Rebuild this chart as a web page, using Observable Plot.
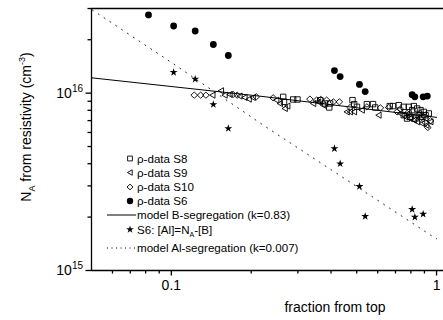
<!DOCTYPE html>
<html><head><meta charset="utf-8">
<script src="https://cdn.jsdelivr.net/npm/d3@7"></script>
<script src="https://cdn.jsdelivr.net/npm/@observablehq/plot@0.6"></script>
<style>
body{margin:0;background:#fff;}
#chart svg{display:block;}
</style></head><body><div id="chart"></div>
<script>
// ---- data (x = fraction from top, y = N_A in cm^-3) ----
const s8X = [0.264,0.266,0.288,0.299,0.364,0.380,0.394,0.397,0.482,0.489,0.501,0.546,0.576,0.587,0.666,0.685,0.720,0.752,0.786,0.809,0.821,0.845,0.870,0.895,0.752,0.774,0.797,0.833,0.857,0.883,0.909,0.935];
const s8Y = [9.53e15,8.93e15,9.21e15,9.21e15,9.13e15,8.74e15,8.30e15,8.74e15,9.13e15,8.67e15,8.37e15,8.67e15,8.67e15,8.30e15,8.45e15,8.45e15,8.55e15,8.37e15,8.37e15,8.02e15,8.45e15,8.19e15,8.02e15,7.84e15,7.51e15,7.19e15,7.35e15,7.19e15,7.51e15,7.35e15,7.51e15,7.68e15];
const s9X = [0.143,0.154,0.159,0.166,0.181,0.189,0.196,0.203,0.249,0.257,0.268,0.274,0.343,0.358,0.374,0.459,0.472,0.489,0.523,0.605,0.730,0.763,0.793,0.821,0.845,0.883,0.916,0.949,0.909,0.786];
const s9Y = [9.74e15,1.031e16,9.74e15,9.83e15,9.62e15,9.45e15,9.25e15,9.45e15,9.13e15,8.74e15,8.19e15,8.45e15,8.74e15,8.93e15,8.55e15,7.84e15,7.84e15,7.84e15,8.02e15,7.51e15,7.68e15,7.35e15,7.19e15,7.04e15,6.89e15,6.74e15,6.59e15,6.89e15,7.19e15,7.68e15];
const s10X = [0.122,0.129,0.135,0.171,0.177,0.209,0.242,0.333,0.353,0.366,0.385,0.408,0.430,0.472,0.546,0.614,0.660,0.730,0.710,0.774,0.833,0.870,0.870,0.909,0.927,0.949];
const s10Y = [9.74e15,9.74e15,9.74e15,9.83e15,9.74e15,9.53e15,9.41e15,9.25e15,9.13e15,9.21e15,9.13e15,8.93e15,8.93e15,8.30e15,8.37e15,8.26e15,8.30e15,8.12e15,7.84e15,7.68e15,7.41e15,7.19e15,7.68e15,6.80e15,6.40e15,6.98e15];
const s6X = [0.082,0.102,0.123,0.144,0.164,0.412,0.433,0.512,0.538,0.809,0.828,0.890,0.923];
const s6Y = [2.76e16,2.39e16,2.24e16,1.88e16,1.63e16,1.34e16,1.24e16,1.12e16,1.02e16,9.8e15,9.53e15,9.53e15,9.62e15];
const alX = [0.102,0.123,0.144,0.164,0.412,0.433,0.512,0.538,0.809,0.828,0.890];
const alY = [1.31e16,1.20e16,8.63e15,6.32e15,4.87e15,4.00e15,2.98e15,2.02e15,2.21e15,2.00e15,2.08e15];
const modelBX = [0.05,0.215,1.0];
const modelBY = [1.22e16,9.62e15,7.3e15];
const modelAlX = [0.0504,0.1,0.222,0.977,1.0];
const modelAlY = [2.94e16,1.49e16,6.6e15,1.54e15,1.51e15];
const xMajorTicks = [0.1,1];
const xMinorTicks = [0.06,0.07,0.08,0.09,0.2,0.3,0.4,0.5,0.6,0.7,0.8,0.9];
const yMajorTicks = [1e15,1e16];
const yMinorTicks = [2e15,3e15,4e15,5e15,6e15,7e15,8e15,9e15,2e16,3e16];
const legendLabels = ["ρ-data S8","ρ-data S9","ρ-data S10","ρ-data S6","model B-segregation (k=0.83)","S6: [Al]=N|A|-[B]","model Al-segregation (k=0.007)"];
const xLabel = "fraction from top";

const pts = (xs, ys) => xs.map((x, i) => ({x, y: ys[i]}));

// ---- symbols ----
const sqSym = {draw(c, s){const r=Math.sqrt(s/Math.PI); c.moveTo(-r,-r); c.lineTo(r,-r); c.lineTo(r,r); c.lineTo(-r,r); c.closePath();}};
const triSym = {draw(c, s){const r=Math.sqrt(s/Math.PI); c.moveTo(-r,0); c.lineTo(r*0.85,-r*1.05); c.lineTo(r*0.85,r*1.05); c.closePath();}};
const diaSym = {draw(c, s){const r=Math.sqrt(s/Math.PI); c.moveTo(0,-r); c.lineTo(r*1.08,0); c.lineTo(0,r); c.lineTo(-r*1.08,0); c.closePath();}};

const FONT = "'Liberation Sans', Arial, Helvetica, sans-serif";
const AX = 1.3;

const chart = Plot.plot({
  width: 443, height: 320,
  marginLeft: 91, marginRight: 0, marginTop: 8, marginBottom: 50,
  x: {type: "log", domain: [0.05, 1.062]},
  y: {type: "log", domain: [1e15, 3e16]},
  style: {fontFamily: FONT, fontSize: "14px", color: "#000", background: "#fff", overflow: "visible"},
  marks: [
    Plot.axisX({ticks: xMinorTicks, tickSize: 3.5, tickFormat: () => "", label: null, strokeWidth: AX}),
    Plot.axisX({ticks: xMajorTicks, tickSize: 5.5, tickPadding: 4, tickFormat: d => String(d), label: null, strokeWidth: AX, fontSize: 14}),
    Plot.axisY({ticks: yMinorTicks, tickSize: 3.5, tickFormat: () => "", label: null, strokeWidth: AX}),
    Plot.axisY({ticks: yMajorTicks, tickSize: 5.5, tickPadding: 3, tickFormat: d => Math.log10(d).toFixed(0), label: null, strokeWidth: AX, fontSize: 14}),
    Plot.ruleY([1e15], {strokeWidth: AX}),
    Plot.ruleY([3e16], {strokeWidth: AX}),
    Plot.ruleX([0.05], {strokeWidth: AX}),
    Plot.line(pts(modelAlX, modelAlY), {x: "x", y: "y", stroke: "#222", strokeWidth: 1, strokeDasharray: "1,6"}),
    Plot.line(pts(modelBX, modelBY), {x: "x", y: "y", stroke: "#000", strokeWidth: 1}),
    Plot.dot(pts(s8X, s8Y), {x: "x", y: "y", symbol: sqSym, r: 2.7, fill: "none", stroke: "#000", strokeWidth: 0.9}),
    Plot.dot(pts(s9X, s9Y), {x: "x", y: "y", symbol: triSym, r: 2.9, fill: "none", stroke: "#000", strokeWidth: 0.9}),
    Plot.dot(pts(s10X, s10Y), {x: "x", y: "y", symbol: diaSym, r: 3.1, fill: "none", stroke: "#000", strokeWidth: 0.9}),
    Plot.dot(pts(s6X, s6Y), {x: "x", y: "y", r: 3.4, fill: "#000", stroke: "none"}),
    Plot.dot(pts(alX, alY), {x: "x", y: "y", symbol: "star", r: 2.5, fill: "#000", stroke: "none"})
  ]
});

document.getElementById("chart").appendChild(chart);
const svg = d3.select(chart);

// superscript exponents on y tick labels
svg.selectAll('g[aria-label="y-axis tick label"] text').each(function(){
  const t = d3.select(this); const e = t.text();
  if (!e) return;
  t.text("10");
  t.append("tspan").attr("dy", "-0.55em").attr("font-size", "10px").text(e);
});

// axis titles
svg.append("text").attr("x", 335).attr("y", 312).attr("text-anchor", "middle")
  .attr("font-family", FONT).attr("font-size", 14).text(xLabel);
const yl = svg.append("text").attr("transform", "translate(31,127) rotate(-90)").attr("text-anchor", "middle")
  .attr("font-family", FONT).attr("font-size", 14);
yl.append("tspan").text("N");
yl.append("tspan").attr("font-size", 9).attr("dy", 4).text("A");
yl.append("tspan").attr("dy", -4).text(" from resistivity (cm");
yl.append("tspan").attr("font-size", 9).attr("dy", -6).text("-3");
yl.append("tspan").attr("dy", 6).text(")");

// legend
const lg = svg.append("g").attr("font-family", FONT).attr("font-size", 11.6).attr("text-anchor", "start");
const rowsY = [158.5, 172.5, 187, 201, 215, 229.5, 248];
const symX = 130, textX = 137;
const symDefs = [
  {sym: sqSym, r: 2.4, fill: "none"}, {sym: triSym, r: 2.6, fill: "none"}, {sym: diaSym, r: 2.8, fill: "none"},
  {sym: d3.symbolCircle, r: 3.2, fill: "#000"}, null, {sym: d3.symbolStar, r: 2.4, fill: "#000"}, null
];
legendLabels.forEach((lab, i) => {
  const y = rowsY[i];
  const d = symDefs[i];
  if (d) {
    lg.append("path").attr("transform", `translate(${symX},${y})`)
      .attr("d", d3.symbol(d.sym, Math.PI * d.r * d.r)())
      .attr("fill", d.fill).attr("stroke", d.fill === "none" ? "#000" : "none").attr("stroke-width", 0.9);
  } else {
    lg.append("line").attr("x1", 107).attr("x2", 136).attr("y1", y).attr("y2", y)
      .attr("stroke", "#000").attr("stroke-width", 1)
      .attr("stroke-dasharray", i === 4 ? null : "1,3.5");
  }
  const t = lg.append("text").attr("x", textX).attr("y", y + 4);
  const parts = lab.split("|");
  if (parts.length === 3) {
    t.append("tspan").text(parts[0]);
    t.append("tspan").attr("font-size", 7).attr("dy", 3).text(parts[1]);
    t.append("tspan").attr("dy", -3).text(parts[2]);
  } else t.text(lab);
});
</script></body></html>
